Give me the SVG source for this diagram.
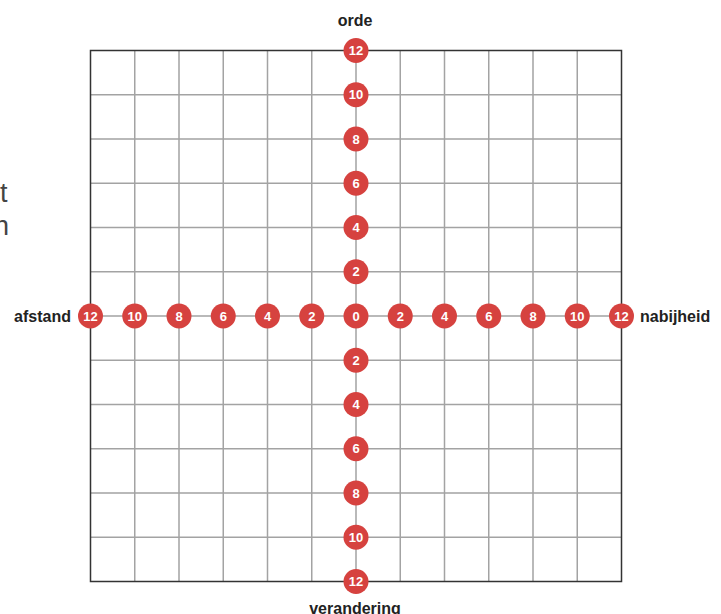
<svg xmlns="http://www.w3.org/2000/svg" width="721" height="614" viewBox="0 0 721 614">
<style>
.grid{stroke:#a3a3a3;stroke-width:1.5;fill:none}
.border{stroke:#333;stroke-width:1.5;fill:none}
.dot circle{fill:#d6423f}
.dot text{fill:#fff;font-family:"Liberation Sans",Arial,sans-serif;font-weight:bold;font-size:13px;text-anchor:middle}
.lbl{fill:#222;font-family:"Liberation Sans",Arial,sans-serif;font-weight:bold;font-size:16px}
.side{fill:#444;font-family:"Liberation Sans",Arial,sans-serif;font-size:27px}
</style>
<rect width="721" height="614" fill="#fff"/>
<text class="side" x="0" y="202">t</text>
<text class="side" x="-6" y="235">n</text>
<g id="connectors">
<path class="grid" d="M134.75 50.5V581.5M179 50.5V581.5M223.25 50.5V581.5M267.5 50.5V581.5M311.75 50.5V581.5M356 50.5V581.5M400.25 50.5V581.5M444.5 50.5V581.5M488.75 50.5V581.5M533 50.5V581.5M577.25 50.5V581.5"/>
<path class="grid" d="M90.5 94.75H621.5M90.5 139H621.5M90.5 183.25H621.5M90.5 227.5H621.5M90.5 271.75H621.5M90.5 316H621.5M90.5 360.25H621.5M90.5 404.5H621.5M90.5 448.75H621.5M90.5 493H621.5M90.5 537.25H621.5"/>
<rect class="border" x="90.5" y="50.5" width="531" height="531"/>
</g>
<g id="labels">
<text class="lbl" x="355" y="26" text-anchor="middle">orde</text>
<text class="lbl" x="355" y="614" text-anchor="middle">verandering</text>
<text class="lbl" x="71" y="321.5" text-anchor="end">afstand</text>
<text class="lbl" x="640" y="321.5">nabijheid</text>
</g>
<g id="v12" class="dot"><circle cx="356" cy="50.5" r="12.5"/><text x="356" y="55">12</text></g>
<g id="v10" class="dot"><circle cx="356" cy="94.75" r="12.5"/><text x="356" y="99.25">10</text></g>
<g id="v8" class="dot"><circle cx="356" cy="139" r="12.5"/><text x="356" y="143.5">8</text></g>
<g id="v6" class="dot"><circle cx="356" cy="183.25" r="12.5"/><text x="356" y="187.75">6</text></g>
<g id="v4" class="dot"><circle cx="356" cy="227.5" r="12.5"/><text x="356" y="232">4</text></g>
<g id="v2" class="dot"><circle cx="356" cy="271.75" r="12.5"/><text x="356" y="276.25">2</text></g>
<g id="c0" class="dot"><circle cx="356" cy="316" r="12.5"/><text x="356" y="320.5">0</text></g>
<g id="vm2" class="dot"><circle cx="356" cy="360.25" r="12.5"/><text x="356" y="364.75">2</text></g>
<g id="vm4" class="dot"><circle cx="356" cy="404.5" r="12.5"/><text x="356" y="409">4</text></g>
<g id="vm6" class="dot"><circle cx="356" cy="448.75" r="12.5"/><text x="356" y="453.25">6</text></g>
<g id="vm8" class="dot"><circle cx="356" cy="493" r="12.5"/><text x="356" y="497.5">8</text></g>
<g id="vm10" class="dot"><circle cx="356" cy="537.25" r="12.5"/><text x="356" y="541.75">10</text></g>
<g id="vm12" class="dot"><circle cx="356" cy="581.5" r="12.5"/><text x="356" y="586">12</text></g>
<g id="hm12" class="dot"><circle cx="90.5" cy="316" r="12.5"/><text x="90.5" y="320.5">12</text></g>
<g id="hm10" class="dot"><circle cx="134.75" cy="316" r="12.5"/><text x="134.75" y="320.5">10</text></g>
<g id="hm8" class="dot"><circle cx="179" cy="316" r="12.5"/><text x="179" y="320.5">8</text></g>
<g id="hm6" class="dot"><circle cx="223.25" cy="316" r="12.5"/><text x="223.25" y="320.5">6</text></g>
<g id="hm4" class="dot"><circle cx="267.5" cy="316" r="12.5"/><text x="267.5" y="320.5">4</text></g>
<g id="hm2" class="dot"><circle cx="311.75" cy="316" r="12.5"/><text x="311.75" y="320.5">2</text></g>
<g id="h2" class="dot"><circle cx="400.25" cy="316" r="12.5"/><text x="400.25" y="320.5">2</text></g>
<g id="h4" class="dot"><circle cx="444.5" cy="316" r="12.5"/><text x="444.5" y="320.5">4</text></g>
<g id="h6" class="dot"><circle cx="488.75" cy="316" r="12.5"/><text x="488.75" y="320.5">6</text></g>
<g id="h8" class="dot"><circle cx="533" cy="316" r="12.5"/><text x="533" y="320.5">8</text></g>
<g id="h10" class="dot"><circle cx="577.25" cy="316" r="12.5"/><text x="577.25" y="320.5">10</text></g>
<g id="h12" class="dot"><circle cx="621.5" cy="316" r="12.5"/><text x="621.5" y="320.5">12</text></g>
</svg>
